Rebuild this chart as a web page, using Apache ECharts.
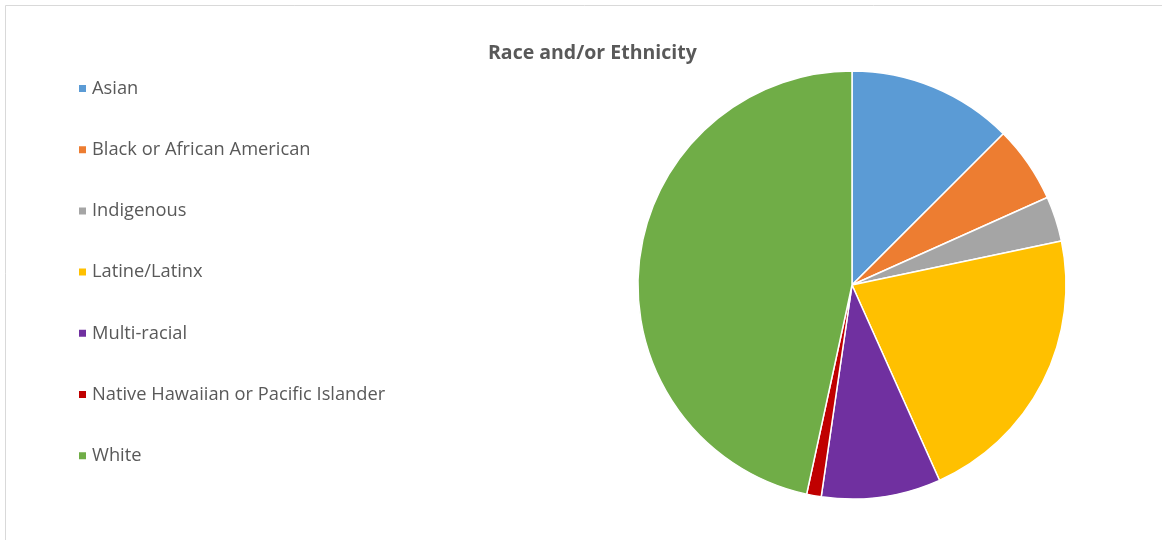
<!DOCTYPE html>
<html>
<head>
<meta charset="utf-8">
<script src="https://cdn.jsdelivr.net/npm/echarts@6/dist/echarts.min.js"></script>
<style>html,body{margin:0;padding:0;background:#fff}#c{width:1162px;height:540px}</style>
</head>
<body>
<div id="c"></div>
<script>
const categories = ["Asian", "Black or African American", "Indigenous", "Latine/Latinx", "Multi-racial", "Native Hawaiian or Pacific Islander", "White"];
const values = [12.5, 5.8, 3.4, 21.6, 9.0, 1.1, 46.6];
const colors = ["#5B9BD5", "#ED7D31", "#A5A5A5", "#FFC000", "#7030A0", "#C00000", "#70AD47"];

const chart = echarts.init(document.getElementById('c'), null, {renderer: 'canvas'});
chart.setOption({
  animation: false,
  backgroundColor: '#fff',
  graphic: [{
    type: 'rect', x: 0, y: 0,
    shape: {x: 5.5, y: 5.5, width: 1200, height: 600},
    style: {fill: 'none', stroke: '#d9d9d9', lineWidth: 1}
  }],
  title: {
    text: 'Race and/or Ethnicity',
    left: 483, top: 38,
    textStyle: {fontFamily: 'Open Sans', fontSize: 19.5, fontWeight: 'bold', color: '#595959'}
  },
  legend: {
    orient: 'vertical',
    left: 72, top: 74,
    icon: 'rect',
    itemWidth: 9, itemHeight: 9,
    itemGap: 42.2,
    itemTextGap: 8,
    data: categories,
    textStyle: {fontFamily: 'Open Sans', fontSize: 18.3, color: '#595959', lineHeight: 19}
  },
  color: colors,
  series: [{
    type: 'pie',
    center: [852, 285],
    radius: [0, 214],
    startAngle: 90,
    clockwise: true,
    label: {show: false},
    labelLine: {show: false},
    itemStyle: {borderColor: '#fff', borderWidth: 1.5},
    emphasis: {disabled: true},
    data: categories.map((n, i) => ({name: n, value: values[i]}))
  }]
});
</script>
</body>
</html>
